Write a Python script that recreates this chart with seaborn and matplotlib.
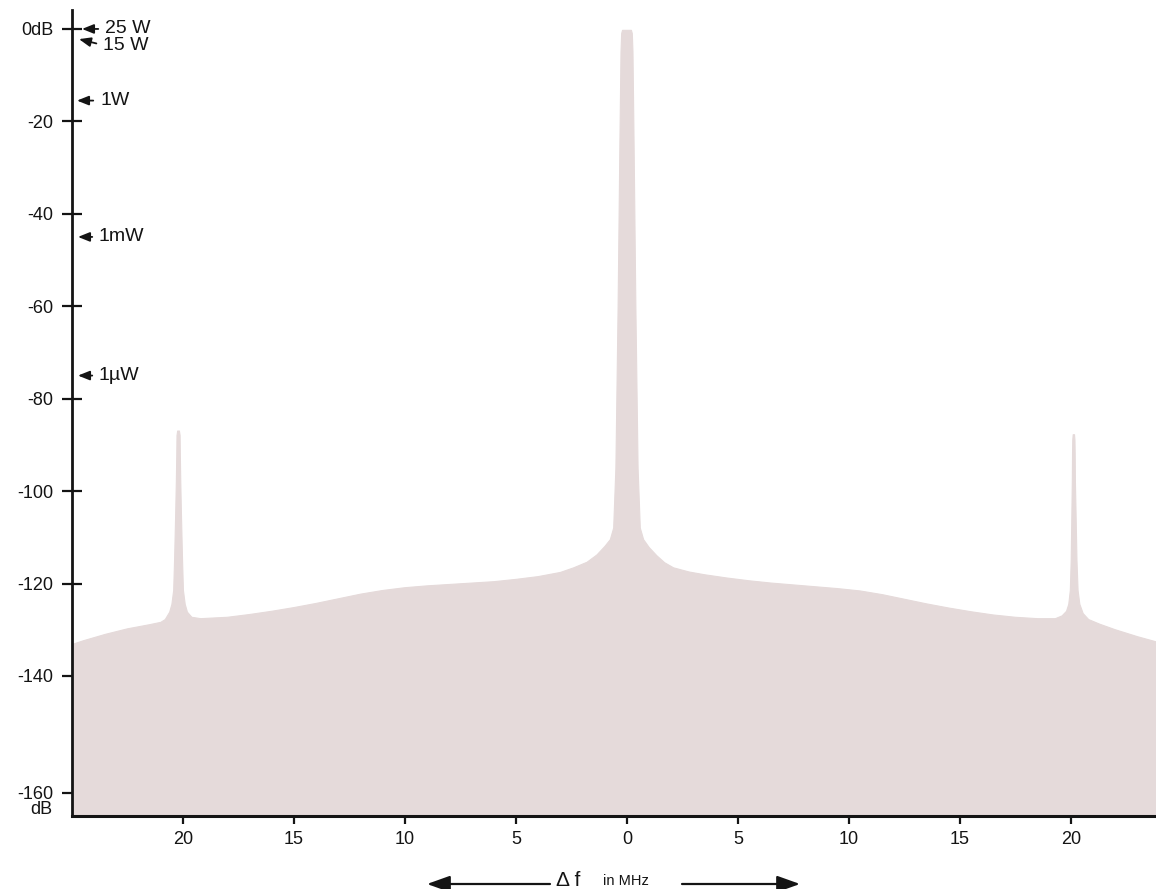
import matplotlib
matplotlib.use("Agg")
import matplotlib.pyplot as plt
import numpy as np
import pandas as pd
import seaborn as sns

# ---------------- data ----------------
# spectrum envelope (frequency offset in MHz, level in dB)
freq_mhz = [
    -25.0, -24.5, -23.5, -22.5, -21.5, -21.0, -20.8, -20.6, -20.5, -20.42,
    -20.38, -20.33, -20.30, -20.28, -20.27, -20.24, -20.16, -20.13, -20.12, -20.10,
    -20.07, -20.02, -19.98, -19.9, -19.8, -19.6, -19.2, -18.0, -17.0, -16.0,
    -15.0, -14.0, -13.0, -12.0, -11.0, -10.0, -9.0, -8.0, -7.0, -6.0,
    -5.0, -4.0, -3.0, -2.4, -1.8, -1.35, -1.0, -0.75, -0.6, -0.5,
    -0.4, -0.32, -0.27, -0.24, -0.2, 0.2, 0.24, 0.27, 0.32, 0.4,
    0.5, 0.6, 0.75, 1.0, 1.35, 1.7, 2.1, 2.8, 3.5, 4.5,
    5.5, 6.5, 7.5, 8.5, 9.5, 10.5, 11.5, 12.5, 13.5, 14.5,
    15.5, 16.5, 17.5, 18.5, 19.3, 19.6, 19.8, 19.9, 19.97, 20.01,
    20.04, 20.06, 20.07, 20.08, 20.10, 20.16, 20.18, 20.19, 20.20, 20.23,
    20.27, 20.32, 20.4, 20.55, 20.8, 21.3, 22.0, 23.0, 23.83,
]
level_db = [
    -133.2, -132.4, -131.0, -129.8, -128.9, -128.4, -127.8, -126.2, -124.5, -121.5,
    -115.0, -105.0, -98.0, -92.0, -88.0, -87.0, -87.0, -88.0, -92.0, -98.0,
    -105.0, -115.0, -121.5, -124.5, -126.2, -127.3, -127.6, -127.3, -126.7, -126.0,
    -125.2, -124.3, -123.3, -122.3, -121.5, -120.9, -120.5, -120.2, -119.9, -119.6,
    -119.1, -118.5, -117.6, -116.6, -115.4, -113.8, -112.0, -110.5, -108.0, -95.0,
    -60.0, -25.0, -5.0, -1.0, -0.3, -0.3, -1.0, -5.0, -25.0, -60.0,
    -95.0, -108.0, -110.5, -112.2, -114.0, -115.5, -116.6, -117.5, -118.1, -118.8,
    -119.4, -119.9, -120.3, -120.7, -121.1, -121.6, -122.4, -123.4, -124.4, -125.3,
    -126.1, -126.8, -127.3, -127.6, -127.6, -127.0, -126.0, -124.5, -121.5, -115.0,
    -105.0, -98.0, -92.0, -89.0, -87.8, -87.8, -89.0, -92.0, -98.0, -105.0,
    -115.0, -121.5, -124.5, -126.5, -127.8, -128.8, -130.0, -131.5, -132.6,
]

ytick_values = [0, -20, -40, -60, -80, -100, -120, -140, -160]
ytick_labels = ["0dB", "-20", "-40", "-60", "-80", "-100", "-120", "-140", "-160"]
xtick_values = [-20, -15, -10, -5, 0, 5, 10, 15, 20]
xtick_labels = ["20", "15", "10", "5", "0", "5", "10", "15", "20"]

power_labels = ["25 W", "15 W", "1W", "1mW", "1\u00b5W"]
power_db = [0.0, -2.2, -15.5, -45.0, -75.0]

# ---------------- layout / style ----------------
W, H = 1156, 889
AX_LEFT_PX, AX_TOP_PX, AX_BOTTOM_PX = 72, 10, 816
fill_color = "#e5dada"
ink = "#141414"

# the printed scale is stretched below -140 dB (the -160 mark sits lower)
BREAK_DB, STRETCH = -140.0, 1.266


def scale_fwd(y):
    y = np.asarray(y, dtype=float)
    return np.where(y >= BREAK_DB, y, BREAK_DB + (y - BREAK_DB) * STRETCH)


def scale_inv(z):
    z = np.asarray(z, dtype=float)
    return np.where(z >= BREAK_DB, z, BREAK_DB + (z - BREAK_DB) / STRETCH)


sns.set_theme(style="white")
plt.rcParams["font.family"] = ["Liberation Sans", "DejaVu Sans"]
plt.rcParams["axes.unicode_minus"] = False

fig = plt.figure(figsize=(W / 100, H / 100), dpi=100)
fig.patch.set_facecolor("white")
ax = fig.add_axes([AX_LEFT_PX / W, 1 - AX_BOTTOM_PX / H,
                   1 - AX_LEFT_PX / W, (AX_BOTTOM_PX - AX_TOP_PX) / H])
ax.set_facecolor("white")
ax.set_yscale("function", functions=(scale_fwd, scale_inv))

df = pd.DataFrame({"freq": freq_mhz, "level": level_db})
sns.lineplot(data=df, x="freq", y="level", ax=ax, color=fill_color,
             linewidth=0.8, sort=False, estimator=None)
ax.fill_between(df["freq"], df["level"], -200, color=fill_color, linewidth=0)

ax.set_xlim(-25.0, 23.83)
ax.set_ylim(float(scale_inv(-170.3)), 4.1)
ax.set_xlabel("")
ax.set_ylabel("")

for side in ("top", "right"):
    ax.spines[side].set_visible(False)
ax.spines["left"].set_color(ink)
ax.spines["left"].set_linewidth(2.0)
ax.spines["bottom"].set_color(ink)
ax.spines["bottom"].set_linewidth(2.2)

ax.set_yticks(ytick_values)
ax.set_yticklabels(ytick_labels)
ax.minorticks_off()
ax.set_xticks(xtick_values)
ax.set_xticklabels(xtick_labels)
ax.tick_params(axis="y", direction="inout", length=14.5, width=1.6, pad=6.3,
               labelsize=13, colors=ink, left=True)
ax.tick_params(axis="x", direction="inout", length=11.5, width=1.6, pad=5,
               labelsize=13, colors=ink, bottom=True)

# "dB" under the -160 label
ax.annotate("dB", xy=(0, ytick_values[-1]), xycoords=ax.get_yaxis_transform(),
            xytext=(-14.4, -12.0), textcoords="offset points",
            ha="right", va="center", fontsize=13, color=ink)

# power level arrows next to the axis
tip_px = [10, 7, 5, 6, 6]
text_dx_px = [23, 24, 23, 21, 21]
text_dy_px = [0, -6, 0, 0, 0]
axis_width_px = W - AX_LEFT_PX
for lab, db, tp, dx, dy in zip(power_labels, power_db, tip_px, text_dx_px, text_dy_px):
    ax.annotate(lab, xy=(tp / axis_width_px, db), xycoords=ax.get_yaxis_transform(),
                xytext=(dx * 0.72, dy * 0.72), textcoords="offset points",
                ha="left", va="center", fontsize=14, color=ink,
                arrowprops=dict(arrowstyle="-|>,head_length=0.5,head_width=0.2",
                                color=ink, lw=1.3, shrinkA=2.5, shrinkB=0,
                                relpos=(0, 0.5)))

# frequency axis caption with arrows
cap_y = 1 - 881 / H
fig.text(556 / W, cap_y, "\u0394 f", fontsize=15, color=ink, ha="left", va="center")
fig.text(603 / W, cap_y, "in MHz", fontsize=10.5, color=ink, ha="left", va="center")
arrow_y = 1 - 884 / H
for x0, x1 in ((550, 427), (682, 800)):
    fig.add_artist(matplotlib.patches.FancyArrowPatch(
        (x0 / W, arrow_y), (x1 / W, arrow_y), transform=fig.transFigure,
        arrowstyle="-|>,head_length=14,head_width=5", color=ink, lw=1.6,
        shrinkA=0, shrinkB=0))

fig.savefig("out.png", dpi=100, facecolor="white")
